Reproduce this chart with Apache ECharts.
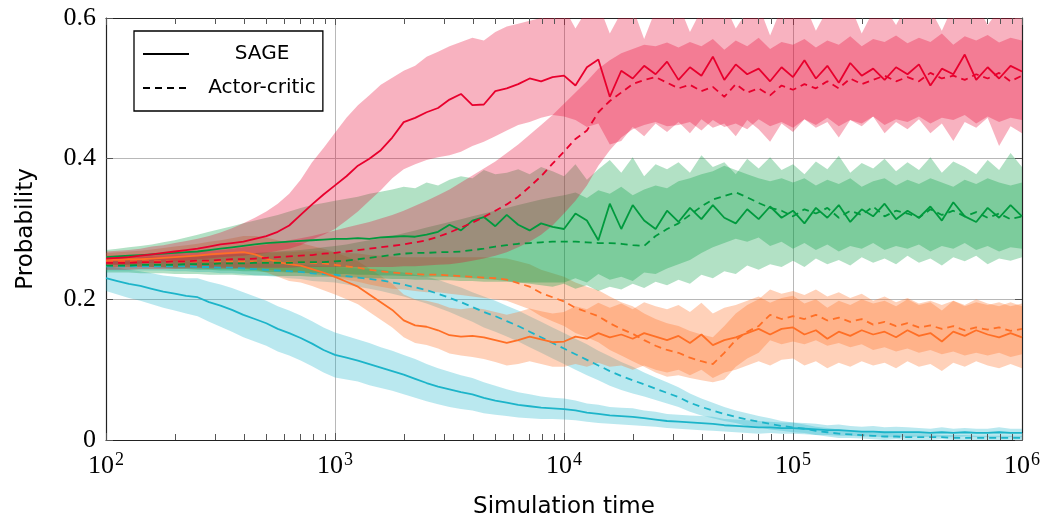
<!DOCTYPE html>
<html><head><meta charset="utf-8">
<script src="https://cdn.jsdelivr.net/npm/echarts@6/dist/echarts.min.js"></script>
<style>html,body{margin:0;padding:0;background:#fff}#c{width:1045px;height:519px}</style>
</head><body><div id="c"></div>
<script>
// exponent of simulation time (10^e), step 0.05
const logTime = [
2.00,2.05,2.10,2.15,2.20,2.25,2.30,2.35,2.40,2.45,
2.50,2.55,2.60,2.65,2.70,2.75,2.80,2.85,2.90,2.95,
3.00,3.05,3.10,3.15,3.20,3.25,3.30,3.35,3.40,3.45,
3.50,3.55,3.60,3.65,3.70,3.75,3.80,3.85,3.90,3.95,
4.00,4.05,4.10,4.15,4.20,4.25,4.30,4.35,4.40,4.45,
4.50,4.55,4.60,4.65,4.70,4.75,4.80,4.85,4.90,4.95,
5.00,5.05,5.10,5.15,5.20,5.25,5.30,5.35,5.40,5.45,
5.50,5.55,5.60,5.65,5.70,5.75,5.80,5.85,5.90,5.95,
6.00];
const xTickExponents = [2,3,4,5,6];
const yTicks = [0, 0.2, 0.4, 0.6];
const minorTicks = [200,300,400,500,600,700,800,900,2000,3000,4000,5000,6000,7000,8000,9000,
 20000,30000,40000,50000,60000,70000,80000,90000,200000,300000,400000,500000,600000,700000,800000,900000];
const legendNames = ['SAGE', 'Actor-critic'];

// ---- red ----
const redSage = [
0.258,0.259,0.260,0.262,0.264,0.266,0.268,0.270,0.272,0.275,
0.278,0.280,0.282,0.286,0.290,0.296,0.305,0.320,0.335,0.349,
0.362,0.375,0.390,0.400,0.412,0.430,0.452,0.458,0.466,0.472,
0.484,0.492,0.476,0.477,0.496,0.500,0.506,0.514,0.510,0.516,
0.518,0.504,0.530,0.541,0.488,0.525,0.514,0.532,0.520,0.538,
0.512,0.530,0.518,0.545,0.512,0.534,0.520,0.528,0.510,0.530,
0.516,0.540,0.514,0.532,0.508,0.536,0.518,0.528,0.512,0.530,
0.520,0.534,0.504,0.528,0.520,0.548,0.512,0.530,0.514,0.532,
0.524];
const redSageHi = [
0.268,0.269,0.270,0.272,0.275,0.277,0.280,0.283,0.286,0.290,
0.295,0.301,0.308,0.316,0.325,0.336,0.350,0.370,0.395,0.415,
0.437,0.458,0.476,0.490,0.505,0.515,0.525,0.532,0.545,0.552,
0.560,0.566,0.572,0.568,0.580,0.588,0.592,0.596,0.600,0.610,
0.615,0.585,0.612,0.620,0.578,0.608,0.615,0.570,0.612,0.600,
0.620,0.580,0.612,0.605,0.620,0.585,0.610,0.618,0.575,0.615,
0.605,0.620,0.582,0.612,0.600,0.618,0.578,0.610,0.615,0.590,
0.620,0.600,0.612,0.582,0.618,0.605,0.620,0.590,0.612,0.608,
0.598];
const redSageLo = [
0.249,0.249,0.250,0.251,0.252,0.253,0.254,0.255,0.257,0.258,
0.260,0.261,0.262,0.264,0.266,0.269,0.272,0.277,0.285,0.292,
0.300,0.312,0.325,0.340,0.355,0.372,0.385,0.392,0.398,0.402,
0.405,0.410,0.418,0.424,0.432,0.440,0.448,0.452,0.458,0.462,
0.460,0.455,0.445,0.450,0.420,0.425,0.445,0.432,0.450,0.438,
0.452,0.436,0.456,0.444,0.450,0.432,0.455,0.442,0.424,0.450,
0.438,0.456,0.444,0.452,0.430,0.455,0.446,0.460,0.436,0.452,
0.442,0.456,0.436,0.450,0.425,0.452,0.444,0.458,0.418,0.446,
0.436];
const redAC = [
0.252,0.252,0.252,0.253,0.253,0.253,0.254,0.254,0.255,0.255,
0.256,0.257,0.257,0.258,0.259,0.260,0.261,0.262,0.263,0.265,
0.266,0.268,0.270,0.272,0.274,0.276,0.278,0.281,0.284,0.289,
0.295,0.302,0.309,0.317,0.326,0.335,0.346,0.360,0.375,0.393,
0.410,0.428,0.440,0.466,0.482,0.494,0.506,0.512,0.516,0.508,
0.500,0.505,0.496,0.502,0.488,0.506,0.494,0.500,0.490,0.504,
0.498,0.506,0.500,0.510,0.500,0.514,0.506,0.512,0.518,0.510,
0.516,0.510,0.522,0.514,0.518,0.512,0.520,0.514,0.522,0.510,
0.518];
const redACHi = [
0.262,0.262,0.263,0.263,0.264,0.265,0.266,0.267,0.268,0.269,
0.270,0.272,0.274,0.276,0.278,0.281,0.284,0.287,0.290,0.294,
0.298,0.302,0.306,0.310,0.315,0.320,0.326,0.333,0.340,0.348,
0.356,0.366,0.376,0.386,0.396,0.408,0.420,0.434,0.448,0.462,
0.478,0.494,0.510,0.528,0.540,0.550,0.556,0.562,0.560,0.565,
0.558,0.566,0.560,0.570,0.555,0.568,0.560,0.572,0.556,0.566,
0.562,0.570,0.558,0.568,0.562,0.574,0.560,0.570,0.566,0.575,
0.564,0.572,0.566,0.578,0.562,0.574,0.568,0.576,0.565,0.572,
0.568];
const redACLo = [
0.242,0.242,0.242,0.243,0.243,0.243,0.243,0.244,0.244,0.244,
0.244,0.244,0.245,0.245,0.245,0.245,0.245,0.246,0.246,0.246,
0.246,0.246,0.246,0.246,0.246,0.246,0.247,0.247,0.248,0.249,
0.250,0.252,0.255,0.258,0.262,0.267,0.274,0.282,0.292,0.305,
0.322,0.340,0.362,0.390,0.412,0.430,0.442,0.448,0.452,0.446,
0.448,0.452,0.440,0.455,0.445,0.450,0.442,0.456,0.446,0.452,
0.444,0.456,0.448,0.458,0.446,0.455,0.450,0.460,0.448,0.456,
0.452,0.460,0.450,0.458,0.455,0.462,0.450,0.460,0.452,0.458,
0.455];

// ---- green ----
const greenSage = [
0.260,0.261,0.262,0.263,0.264,0.265,0.266,0.267,0.268,0.270,
0.272,0.274,0.276,0.278,0.280,0.281,0.282,0.283,0.284,0.285,
0.286,0.286,0.287,0.286,0.288,0.289,0.290,0.289,0.292,0.296,
0.306,0.298,0.312,0.317,0.304,0.320,0.306,0.298,0.308,0.303,
0.300,0.322,0.312,0.284,0.336,0.300,0.334,0.312,0.300,0.326,
0.310,0.330,0.314,0.334,0.316,0.308,0.328,0.314,0.332,0.316,
0.326,0.308,0.330,0.316,0.334,0.310,0.328,0.318,0.336,0.314,
0.326,0.316,0.332,0.312,0.338,0.318,0.310,0.330,0.316,0.334,
0.318];
const greenSageHi = [
0.270,0.272,0.274,0.276,0.278,0.281,0.284,0.288,0.292,0.296,
0.300,0.304,0.308,0.312,0.316,0.320,0.325,0.330,0.334,0.337,
0.340,0.343,0.346,0.350,0.353,0.356,0.360,0.358,0.366,0.362,
0.370,0.375,0.372,0.384,0.378,0.380,0.385,0.378,0.388,0.382,
0.375,0.392,0.370,0.385,0.398,0.380,0.402,0.375,0.392,0.385,
0.395,0.380,0.405,0.388,0.395,0.378,0.400,0.386,0.402,0.384,
0.392,0.378,0.396,0.385,0.404,0.380,0.394,0.386,0.400,0.382,
0.395,0.384,0.402,0.380,0.396,0.388,0.378,0.398,0.384,0.408,
0.388];
const greenSageLo = [
0.250,0.249,0.248,0.247,0.246,0.245,0.244,0.243,0.242,0.242,
0.241,0.241,0.240,0.240,0.239,0.239,0.238,0.238,0.237,0.237,
0.236,0.236,0.235,0.235,0.234,0.234,0.233,0.233,0.232,0.232,
0.232,0.231,0.230,0.229,0.228,0.226,0.224,0.222,0.220,0.218,
0.222,0.215,0.220,0.212,0.218,0.214,0.222,0.216,0.225,0.220,
0.228,0.222,0.235,0.230,0.240,0.236,0.248,0.242,0.250,0.246,
0.255,0.246,0.258,0.250,0.256,0.248,0.260,0.252,0.258,0.250,
0.262,0.252,0.258,0.248,0.260,0.254,0.262,0.250,0.258,0.255,
0.260];
const greenAC = [
0.248,0.248,0.248,0.249,0.249,0.249,0.249,0.250,0.250,0.250,
0.251,0.251,0.251,0.252,0.252,0.252,0.252,0.253,0.253,0.253,
0.254,0.255,0.257,0.259,0.261,0.263,0.265,0.266,0.266,0.267,
0.267,0.268,0.270,0.272,0.275,0.277,0.279,0.280,0.281,0.282,
0.282,0.282,0.281,0.280,0.280,0.279,0.277,0.276,0.290,0.300,
0.308,0.320,0.332,0.342,0.347,0.352,0.345,0.337,0.330,0.326,
0.318,0.328,0.322,0.330,0.316,0.326,0.320,0.332,0.318,0.326,
0.322,0.316,0.328,0.320,0.326,0.318,0.324,0.316,0.322,0.314,
0.318];
const greenACHi = [
0.258,0.258,0.259,0.259,0.260,0.260,0.261,0.261,0.262,0.262,
0.263,0.264,0.265,0.266,0.267,0.268,0.269,0.270,0.272,0.274,
0.276,0.278,0.281,0.284,0.287,0.290,0.294,0.298,0.302,0.306,
0.310,0.314,0.318,0.322,0.326,0.330,0.334,0.338,0.342,0.345,
0.348,0.352,0.344,0.355,0.350,0.360,0.348,0.356,0.362,0.358,
0.368,0.372,0.378,0.382,0.390,0.384,0.378,0.372,0.368,0.372,
0.366,0.372,0.362,0.370,0.364,0.372,0.360,0.368,0.372,0.362,
0.370,0.364,0.372,0.366,0.360,0.370,0.364,0.372,0.366,0.362,
0.366];
const greenACLo = [
0.238,0.238,0.238,0.237,0.237,0.237,0.236,0.236,0.236,0.235,
0.235,0.235,0.234,0.234,0.234,0.233,0.233,0.233,0.232,0.232,
0.232,0.231,0.231,0.230,0.230,0.229,0.229,0.228,0.228,0.227,
0.227,0.226,0.226,0.225,0.225,0.225,0.224,0.224,0.224,0.224,
0.224,0.230,0.224,0.236,0.228,0.232,0.226,0.238,0.236,0.244,
0.250,0.256,0.266,0.274,0.280,0.286,0.282,0.288,0.276,0.282,
0.272,0.280,0.270,0.278,0.268,0.276,0.272,0.280,0.270,0.276,
0.272,0.278,0.268,0.276,0.272,0.280,0.270,0.276,0.268,0.274,
0.272];

// ---- orange ----
const orangeSage = [
0.256,0.256,0.257,0.257,0.258,0.259,0.260,0.261,0.262,0.264,
0.265,0.266,0.267,0.264,0.258,0.253,0.250,0.248,0.243,0.238,
0.232,0.225,0.218,0.207,0.196,0.185,0.170,0.163,0.161,0.156,
0.149,0.147,0.148,0.146,0.142,0.138,0.142,0.147,0.143,0.139,
0.140,0.147,0.144,0.152,0.146,0.150,0.144,0.152,0.147,0.142,
0.148,0.138,0.150,0.135,0.142,0.146,0.152,0.158,0.150,0.158,
0.160,0.150,0.156,0.144,0.154,0.148,0.156,0.150,0.154,0.146,
0.156,0.148,0.152,0.140,0.154,0.148,0.156,0.150,0.146,0.152,
0.146];
const orangeSageHi = [
0.266,0.267,0.268,0.269,0.271,0.273,0.275,0.277,0.279,0.282,
0.284,0.287,0.290,0.290,0.288,0.284,0.280,0.280,0.276,0.272,
0.267,0.261,0.254,0.244,0.233,0.222,0.207,0.200,0.198,0.194,
0.188,0.186,0.188,0.186,0.182,0.178,0.182,0.187,0.183,0.180,
0.182,0.190,0.186,0.195,0.188,0.194,0.186,0.196,0.190,0.186,
0.192,0.182,0.195,0.180,0.188,0.192,0.198,0.204,0.195,0.202,
0.205,0.194,0.200,0.188,0.198,0.192,0.200,0.194,0.198,0.190,
0.200,0.192,0.196,0.184,0.198,0.192,0.200,0.194,0.190,0.196,
0.190];
const orangeSageLo = [
0.246,0.246,0.246,0.246,0.246,0.246,0.246,0.246,0.246,0.246,
0.246,0.245,0.244,0.242,0.238,0.232,0.226,0.224,0.219,0.213,
0.207,0.200,0.193,0.182,0.171,0.160,0.146,0.138,0.135,0.130,
0.123,0.120,0.118,0.115,0.111,0.106,0.108,0.112,0.108,0.104,
0.104,0.108,0.104,0.110,0.104,0.106,0.100,0.106,0.100,0.096,
0.100,0.092,0.100,0.088,0.096,0.100,0.106,0.112,0.106,0.114,
0.116,0.106,0.112,0.102,0.110,0.104,0.112,0.106,0.110,0.102,
0.112,0.104,0.108,0.098,0.110,0.104,0.112,0.106,0.102,0.108,
0.102];
const orangeAC = [
0.254,0.254,0.254,0.254,0.254,0.254,0.254,0.254,0.254,0.254,
0.254,0.254,0.254,0.254,0.254,0.254,0.253,0.253,0.252,0.251,
0.249,0.247,0.245,0.242,0.240,0.238,0.237,0.236,0.235,0.235,
0.234,0.233,0.232,0.231,0.230,0.228,0.223,0.218,0.209,0.203,
0.197,0.188,0.182,0.176,0.166,0.158,0.151,0.142,0.134,0.128,
0.124,0.117,0.112,0.108,0.124,0.142,0.154,0.162,0.178,0.172,
0.176,0.172,0.178,0.170,0.174,0.168,0.172,0.164,0.168,0.162,
0.166,0.160,0.163,0.158,0.162,0.156,0.160,0.157,0.160,0.155,
0.158];
const orangeACHi = [
0.262,0.262,0.262,0.262,0.262,0.262,0.263,0.263,0.263,0.264,
0.264,0.265,0.265,0.266,0.266,0.267,0.267,0.268,0.268,0.268,
0.267,0.266,0.265,0.263,0.262,0.261,0.260,0.260,0.260,0.260,
0.260,0.260,0.260,0.260,0.259,0.258,0.254,0.250,0.242,0.237,
0.232,0.224,0.218,0.213,0.204,0.196,0.190,0.180,0.172,0.166,
0.162,0.155,0.150,0.146,0.162,0.180,0.192,0.200,0.214,0.208,
0.212,0.206,0.214,0.204,0.210,0.202,0.208,0.198,0.204,0.196,
0.202,0.194,0.198,0.192,0.198,0.190,0.196,0.192,0.196,0.190,
0.194];
const orangeACLo = [
0.246,0.246,0.246,0.246,0.246,0.246,0.245,0.245,0.245,0.244,
0.244,0.243,0.243,0.242,0.242,0.241,0.239,0.238,0.236,0.234,
0.231,0.228,0.225,0.221,0.218,0.215,0.214,0.212,0.210,0.210,
0.208,0.206,0.204,0.202,0.200,0.198,0.192,0.186,0.176,0.169,
0.162,0.152,0.146,0.139,0.128,0.120,0.112,0.104,0.096,0.090,
0.092,0.088,0.085,0.082,0.086,0.104,0.116,0.124,0.142,0.136,
0.140,0.136,0.142,0.134,0.138,0.132,0.136,0.128,0.132,0.126,
0.130,0.124,0.128,0.122,0.126,0.120,0.124,0.120,0.124,0.118,
0.122];

// ---- cyan ----
const cyanSage = [
0.230,0.226,0.222,0.219,0.215,0.211,0.208,0.205,0.203,0.196,
0.191,0.185,0.178,0.172,0.166,0.158,0.152,0.145,0.137,0.128,
0.121,0.117,0.113,0.108,0.103,0.098,0.093,0.087,0.081,0.076,
0.072,0.068,0.065,0.060,0.056,0.053,0.050,0.048,0.046,0.045,
0.044,0.042,0.039,0.037,0.035,0.034,0.033,0.031,0.029,0.027,
0.026,0.025,0.024,0.023,0.021,0.020,0.019,0.018,0.018,0.017,
0.017,0.016,0.015,0.014,0.014,0.013,0.012,0.012,0.011,0.011,
0.011,0.011,0.010,0.011,0.010,0.011,0.010,0.010,0.011,0.010,
0.010];
const cyanSageHi = [
0.248,0.245,0.242,0.240,0.237,0.234,0.232,0.230,0.230,0.225,
0.221,0.216,0.210,0.204,0.198,0.190,0.184,0.177,0.169,0.160,
0.153,0.148,0.143,0.138,0.132,0.127,0.121,0.115,0.108,0.102,
0.097,0.092,0.088,0.082,0.077,0.072,0.068,0.065,0.062,0.060,
0.059,0.056,0.052,0.050,0.047,0.046,0.045,0.042,0.040,0.037,
0.036,0.035,0.034,0.033,0.030,0.029,0.028,0.027,0.026,0.025,
0.025,0.024,0.023,0.021,0.022,0.020,0.019,0.020,0.018,0.019,
0.018,0.017,0.016,0.018,0.016,0.017,0.016,0.016,0.018,0.016,
0.016];
const cyanSageLo = [
0.212,0.207,0.202,0.198,0.193,0.188,0.184,0.180,0.176,0.168,
0.161,0.154,0.146,0.140,0.134,0.126,0.120,0.113,0.105,0.096,
0.089,0.086,0.083,0.078,0.074,0.070,0.065,0.060,0.055,0.051,
0.047,0.044,0.042,0.038,0.036,0.034,0.032,0.031,0.030,0.030,
0.029,0.028,0.026,0.024,0.023,0.022,0.021,0.020,0.019,0.017,
0.016,0.015,0.014,0.013,0.012,0.011,0.010,0.009,0.010,0.009,
0.009,0.008,0.007,0.007,0.006,0.006,0.005,0.005,0.004,0.004,
0.004,0.005,0.004,0.004,0.004,0.005,0.004,0.004,0.004,0.004,
0.004];
const cyanAC = [
0.247,0.247,0.247,0.247,0.247,0.247,0.247,0.247,0.246,0.246,
0.245,0.245,0.244,0.243,0.242,0.241,0.240,0.239,0.237,0.236,
0.235,0.233,0.231,0.229,0.227,0.224,0.221,0.217,0.213,0.208,
0.202,0.196,0.189,0.182,0.176,0.169,0.162,0.154,0.146,0.138,
0.130,0.122,0.114,0.106,0.098,0.091,0.085,0.079,0.073,0.067,
0.061,0.053,0.047,0.042,0.037,0.033,0.029,0.026,0.023,0.020,
0.018,0.016,0.013,0.011,0.009,0.008,0.007,0.006,0.005,0.005,
0.004,0.004,0.004,0.004,0.003,0.003,0.003,0.003,0.003,0.003,
0.003];
const cyanACHi = [
0.253,0.253,0.253,0.253,0.253,0.253,0.254,0.254,0.253,0.253,
0.253,0.253,0.252,0.252,0.251,0.250,0.250,0.249,0.248,0.247,
0.246,0.245,0.244,0.243,0.242,0.240,0.238,0.235,0.232,0.228,
0.222,0.217,0.210,0.204,0.198,0.191,0.184,0.176,0.168,0.160,
0.152,0.144,0.136,0.127,0.119,0.111,0.104,0.096,0.089,0.082,
0.075,0.066,0.059,0.053,0.047,0.042,0.038,0.034,0.031,0.027,
0.025,0.022,0.019,0.017,0.015,0.013,0.012,0.011,0.010,0.009,
0.008,0.008,0.008,0.007,0.007,0.007,0.006,0.006,0.006,0.006,
0.006];
const cyanACLo = [
0.241,0.241,0.241,0.241,0.241,0.241,0.240,0.240,0.239,0.239,
0.237,0.237,0.236,0.234,0.233,0.232,0.230,0.229,0.226,0.225,
0.224,0.221,0.218,0.215,0.212,0.208,0.204,0.199,0.194,0.188,
0.182,0.175,0.168,0.160,0.154,0.147,0.140,0.132,0.124,0.116,
0.108,0.100,0.092,0.085,0.077,0.071,0.066,0.062,0.057,0.052,
0.047,0.040,0.035,0.031,0.027,0.024,0.020,0.018,0.015,0.013,
0.011,0.010,0.007,0.005,0.003,0.003,0.002,0.001,0.000,0.001,
0.000,0.000,0.000,0.001,0.000,0.000,0.000,0.000,0.000,0.000,
0.000];

const COL = {red:'#e8002d', green:'#009a3e', orange:'#ff6f26', cyan:'#1cb4c9'};
const FILL = {red:'rgba(232,0,45,0.30)', green:'rgba(0,154,62,0.30)', orange:'rgba(255,111,38,0.32)', cyan:'rgba(28,180,201,0.30)'};

const simTime = logTime.map(e => Math.pow(10, e));

function band(lo, hi, fill) {
  return {
    type: 'custom', coordinateSystem: 'cartesian2d', clip: true, silent: true, z: 1,
    data: [[simTime[0], lo[0]]],
    renderItem: function (params, api) {
      const pts = [];
      for (let i = 0; i < simTime.length; i++) pts.push(api.coord([simTime[i], hi[i]]));
      for (let i = simTime.length - 1; i >= 0; i--) pts.push(api.coord([simTime[i], lo[i]]));
      return { type: 'polygon', shape: { points: pts }, style: { fill: fill, stroke: null } };
    }
  };
}
function line(vals, color, dashed) {
  return {
    type: 'line', data: simTime.map((t, i) => [t, vals[i]]), showSymbol: false, symbol: 'none',
    silent: true, z: 3, clip: true,
    lineStyle: { color: color, width: 1.8, type: dashed ? [7, 5] : 'solid' }
  };
}

const axisLabelFont = 'Liberation Serif';
const series = [
  band(cyanSageLo, cyanSageHi, FILL.cyan),
  band(cyanACLo, cyanACHi, FILL.cyan),
  band(orangeSageLo, orangeSageHi, FILL.orange),
  band(orangeACLo, orangeACHi, FILL.orange),
  band(greenSageLo, greenSageHi, FILL.green),
  band(greenACLo, greenACHi, FILL.green),
  band(redSageLo, redSageHi, FILL.red),
  band(redACLo, redACHi, FILL.red),
  line(cyanAC, COL.cyan, true),
  line(cyanSage, COL.cyan, false),
  line(orangeAC, COL.orange, true),
  line(orangeSage, COL.orange, false),
  line(greenAC, COL.green, true),
  line(greenSage, COL.green, false),
  line(redAC, COL.red, true),
  line(redSage, COL.red, false),
  { name: legendNames[0], type: 'line', data: [], symbol: 'none', showSymbol: false, lineStyle: { color: '#000', width: 1.8, type: 'solid' }, itemStyle: {color:'#000', opacity: 0} },
  { name: legendNames[1], type: 'line', data: [], symbol: 'none', showSymbol: false, lineStyle: { color: '#000', width: 1.8, type: [7, 5] }, itemStyle: {color:'#000', opacity: 0} },
  {
    type: 'custom', coordinateSystem: 'cartesian2d', silent: true, z: 5,
    data: minorTicks.map(v => [v, 0]),
    renderItem: function (params, api) {
      const p = api.coord([api.value(0), 0]);
      const cs = params.coordSys;
      const st = { stroke: '#555', lineWidth: 1 };
      const x = Math.round(p[0]) + 0.5;
      return { type: 'group', children: [
        { type: 'line', shape: { x1: x, y1: cs.y + cs.height, x2: x, y2: cs.y + cs.height - 6 }, style: st },
        { type: 'line', shape: { x1: x, y1: cs.y, x2: x, y2: cs.y + 6 }, style: st }
      ]};
    }
  }
];

const chart = echarts.init(document.getElementById('c'), null, { renderer: 'canvas' });
chart.setOption({
  animation: false,
  backgroundColor: '#fff',
  grid: { left: 106, right: 23, top: 18, bottom: 79, containLabel: false, outerBoundsMode: 'none' },
  legend: {
    data: legendNames, orient: 'vertical', left: 134, top: 31,
    itemWidth: 46, itemHeight: 14, itemGap: 14, itemTextGap: 2,
    padding: [13, 7, 13, 8], borderColor: '#000', borderWidth: 1.3, backgroundColor: '#fff',
    selectedMode: false,
    itemStyle: { opacity: 0 },
    formatter: n => '{c|' + n + '}',
    textStyle: { fontFamily: 'DejaVu Sans', fontSize: 20, color: '#000',
      rich: { c: { fontFamily: 'DejaVu Sans', fontSize: 20, color: '#000', width: 136, align: 'center' } } }
  },
  xAxis: [{
    type: 'log', logBase: 10, min: Math.pow(10, xTickExponents[0]), max: Math.pow(10, xTickExponents[xTickExponents.length - 1]),
    name: 'Simulation time', nameLocation: 'middle', nameGap: 56,
    nameTextStyle: { fontFamily: 'DejaVu Sans', fontSize: 23, color: '#000' },
    axisLine: { show: true, onZero: false, lineStyle: { color: '#222', width: 1.2 } },
    axisTick: { show: true, inside: true, length: 7, lineStyle: { color: '#555' } },
    splitLine: { show: true, lineStyle: { color: '#b8b8b8', width: 1 } },
    minorTick: { show: false },
    axisLabel: {
      margin: 11, color: '#000',
      formatter: v => '{b|10}{s|' + Math.round(Math.log10(v)) + '}',
      rich: {
        b: { fontFamily: axisLabelFont, fontSize: 26, lineHeight: 28, color: '#000', verticalAlign: 'bottom' },
        s: { fontFamily: axisLabelFont, fontSize: 18, lineHeight: 18, color: '#000', verticalAlign: 'top', padding: [0, 0, 0, 1] }
      }
    }
  }, {
    type: 'log', logBase: 10, position: 'top', min: 100, max: 1e6,
    axisLine: { show: true, onZero: false, lineStyle: { color: '#222', width: 1.2 } },
    axisTick: { show: true, inside: true, length: 7, lineStyle: { color: '#555' } },
    axisLabel: { show: false }, splitLine: { show: false }
  }],
  yAxis: [{
    type: 'value', min: yTicks[0], max: yTicks[yTicks.length - 1], interval: 0.2,
    name: 'Probability', nameLocation: 'middle', nameGap: 68,
    nameTextStyle: { fontFamily: 'DejaVu Sans', fontSize: 23, color: '#000' },
    axisLine: { show: true, lineStyle: { color: '#222', width: 1.2 } },
    axisTick: { show: true, inside: true, length: 7, lineStyle: { color: '#555' } },
    splitLine: { show: true, lineStyle: { color: '#b8b8b8', width: 1 } },
    axisLabel: { margin: 10, color: '#000', fontFamily: axisLabelFont, fontSize: 26,
      formatter: v => (v === 0 ? '0' : v.toFixed(1)) }
  }, {
    type: 'value', position: 'right', min: 0, max: 0.6, interval: 0.2,
    axisLine: { show: true, lineStyle: { color: '#222', width: 1.2 } },
    axisTick: { show: true, inside: true, length: 7, lineStyle: { color: '#555' } },
    axisLabel: { show: false }, splitLine: { show: false }
  }],
  series: series
});
</script></body></html>
